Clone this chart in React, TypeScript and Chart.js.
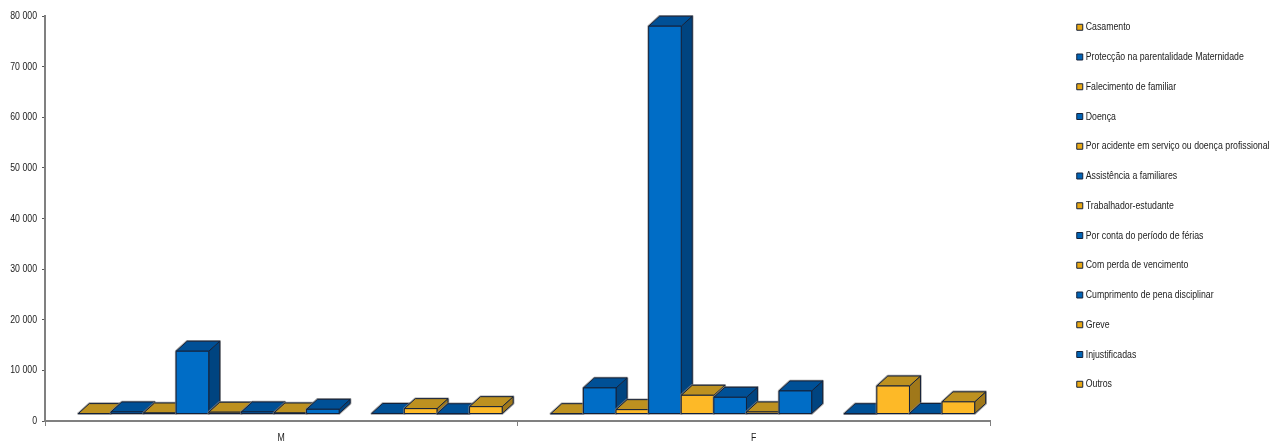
import React, { useEffect, useRef } from "react";
import { Chart, registerables } from "chart.js";

Chart.register(...registerables);

const categories = ["M", "F"];
const casamento = [80, 60];
const proteccao = [400, 5150];
const falecimento = [200, 860];
const doenca = [12400, 76600];
const acidente = [350, 3700];
const assistencia = [400, 3300];
const trabalhador = [200, 400];
const porConta = [930, 4550];
const comPerda = [null, null];
const cumprimento = [100, 50];
const greve = [1060, 5530];
const injustificadas = [50, 100];
const outros = [1450, 2400];

const seriesNames = [
  "Casamento",
  "Protecção na parentalidade Maternidade",
  "Falecimento de familiar",
  "Doença",
  "Por acidente em serviço ou doença profissional",
  "Assistência a familiares",
  "Trabalhador-estudante",
  "Por conta do período de férias",
  "Com perda de vencimento",
  "Cumprimento de pena disciplinar",
  "Greve",
  "Injustificadas",
  "Outros",
];
const seriesValues = [
  casamento, proteccao, falecimento, doenca, acidente, assistencia, trabalhador,
  porConta, comPerda, cumprimento, greve, injustificadas, outros,
];

const YELLOW = { front: "#FDB927", top: "#BD9120", side: "#A0781A" };
const BLUE = { front: "#006DC6", top: "#005096", side: "#004480" };
const EDGE = "#14213a";
const FONT = "'Liberation Sans', Arial, sans-serif";
const TEXT_SQUEEZE = 0.795;

// The reference's text is horizontally squeezed, so narrow every label drawn on the canvas.
const narrowText = {
  id: "narrowText",
  beforeInit(chart: any) {
    const ctx = chart.ctx;
    const fill = ctx.fillText.bind(ctx);
    ctx.fillText = (text: string, x: number, y: number, maxWidth?: number) => {
      ctx.save();
      ctx.translate(x, y);
      ctx.scale(TEXT_SQUEEZE, 1);
      if (maxWidth === undefined) fill(text, 0, 0);
      else fill(text, 0, 0, maxWidth / TEXT_SQUEEZE);
      ctx.restore();
    };
  },
};

const bars3d = {
  id: "bars3d",
  beforeDatasetDraw() {
    return false;
  },
  beforeDatasetsDraw(chart: any) {
    const { ctx } = chart;
    const shiftX = 9;
    const shiftY = -7;
    const dx = 11;
    const dy = -10;
    const poly = (pts: number[][], fill: string) => {
      ctx.beginPath();
      pts.forEach((p, i) => (i ? ctx.lineTo(p[0], p[1]) : ctx.moveTo(p[0], p[1])));
      ctx.closePath();
      ctx.fillStyle = fill;
      ctx.fill();
      ctx.strokeStyle = EDGE;
      ctx.lineWidth = 1;
      ctx.stroke();
    };
    ctx.save();
    ctx.lineJoin = "round";
    seriesNames.forEach((_, di) => {
      const meta = chart.getDatasetMeta(di);
      const c = di % 2 === 0 ? YELLOW : BLUE;
      meta.data.forEach((el: any, i: number) => {
        if (chart.data.datasets[di].data[i] == null) return;
        const l = el.x - el.width / 2 + shiftX;
        const r = el.x + el.width / 2 + shiftX;
        const t = el.y + shiftY;
        const b = el.base + shiftY;
        ctx.beginPath();
        ctx.moveTo(l, b);
        ctx.lineTo(l, t);
        ctx.lineTo(l + dx, t + dy);
        ctx.lineTo(r + dx, t + dy);
        ctx.lineTo(r + dx, b + dy);
        ctx.lineTo(r, b);
        ctx.closePath();
        ctx.strokeStyle = "rgba(130,130,130,0.75)";
        ctx.lineWidth = 2.5;
        ctx.stroke();
        poly([[r, b], [r, t], [r + dx, t + dy], [r + dx, b + dy]], c.side);
        poly([[l, t], [r, t], [r + dx, t + dy], [l + dx, t + dy]], c.top);
        poly([[l, b], [l, t], [r, t], [r, b]], c.front);
      });
    });
    ctx.restore();
  },
};

export default function App() {
  const ref = useRef<HTMLCanvasElement>(null);
  useEffect(() => {
    const chart = new Chart(ref.current!, {
      type: "bar",
      data: {
        labels: categories,
        datasets: seriesNames.map((name, i) => ({
          label: name,
          data: seriesValues[i],
          backgroundColor: i % 2 === 0 ? "#E8A814" : "#0063B4",
          borderColor: EDGE,
          borderWidth: 1,
          categoryPercentage: 0.897,
          barPercentage: 1,
        })),
      },
      options: {
        responsive: false,
        animation: false,
        layout: { padding: { top: 3, right: 0, bottom: 0, left: 0 } },
        plugins: {
          tooltip: { enabled: false },
          legend: {
            position: "right",
            align: "start",
            maxWidth: 218.5,
            onClick: () => {},
            labels: {
              usePointStyle: true,
              pointStyle: "rect",
              boxWidth: 1,
              boxHeight: 6,
              padding: 18.75,
              color: "#222",
              font: { family: FONT, size: 11 },
            },
          },
        },
        scales: {
          x: {
            grid: {
              display: true,
              drawOnChartArea: false,
              drawTicks: true,
              tickLength: 5,
              color: "#808080",
            },
            border: { color: "#808080", width: 2 },
            ticks: { color: "#222", font: { family: FONT, size: 11 }, padding: 5, maxRotation: 0 },
            afterFit: (s: any) => {
              s.height = 23;
            },
          },
          y: {
            min: 0,
            max: 80000,
            grid: {
              display: true,
              drawOnChartArea: false,
              drawTicks: true,
              tickLength: 3,
              color: "#555",
            },
            border: { color: "#808080", width: 2 },
            ticks: {
              stepSize: 10000,
              color: "#222",
              padding: 5,
              font: { family: FONT, size: 11 },
              callback: (v: any) => String(v).replace(/\B(?=(\d{3})+$)/g, " "),
            },
            afterFit: (s: any) => {
              s.width = 45;
              s.paddingTop = 16;
            },
          },
          gap: {
            position: "right",
            display: true,
            grid: { display: false, drawTicks: false },
            border: { display: false },
            ticks: { display: false },
            afterFit: (s: any) => {
              s.width = 70.5;
            },
          },
        },
      } as any,
      plugins: [narrowText, bars3d],
    } as any);
    return () => chart.destroy();
  }, []);
  return (
    <div style={{ position: "fixed", left: 0, top: 0, width: 1279, height: 444, background: "#fff" }}>
      <canvas ref={ref} width={1279} height={444} style={{ display: "block" }} />
    </div>
  );
}
